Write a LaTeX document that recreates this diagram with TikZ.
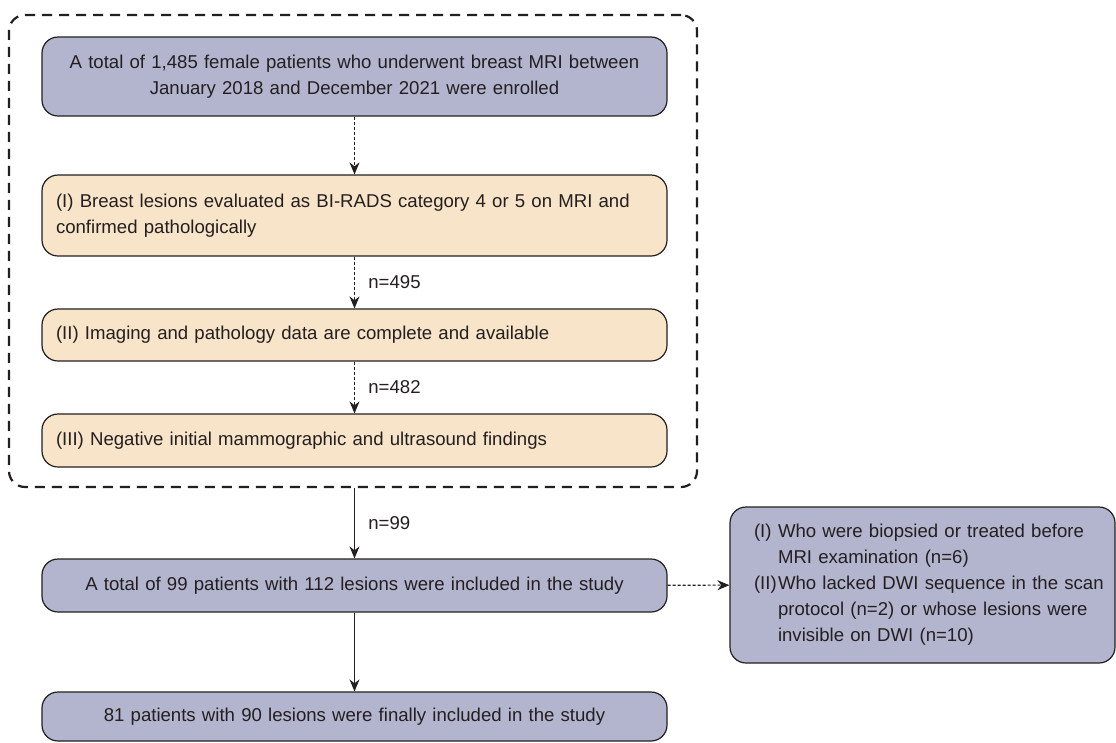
\documentclass[tikz,border=0pt]{standalone}
\usepackage{fontspec}
\setmainfont{Liberation Sans}
\usetikzlibrary{positioning,arrows.meta}
\definecolor{boxblue}{HTML}{B3B5CE}
\definecolor{boxpeach}{HTML}{F8E4C8}
\definecolor{inkgray}{HTML}{231F20}
\newcommand\boxfont{\fontsize{18.6}{26}\selectfont\hyphenpenalty=10000\relax}
\newcommand\exclitem[1]{\leftskip=19pt\hangindent=24pt\hangafter=1\makebox[24pt][l]{#1}}

\begin{document}
\begin{tikzpicture}[x=1pt,y=-1pt,
	box/.style={draw=inkgray, line width=1.2pt, rounded corners=16pt, text=inkgray,
		font=\boxfont, inner sep=0pt},
	bluebox/.style={box, fill=boxblue, minimum width=625pt, text width=597pt, align=center},
	peachbox/.style={box, fill=boxpeach, minimum width=625pt, text width=597pt, align=left},
	sidebox/.style={box, fill=boxblue, minimum width=385pt, text width=375pt, align=left},
	frame/.style={draw=inkgray, line width=2.2pt, dash pattern=on 10pt off 7pt, rounded corners=16pt,
		minimum width=688pt, minimum height=472pt},
	solidarrow/.style={draw=inkgray, line width=1.1pt, -{Stealth[length=12pt,width=10pt]}},
	dasharrow/.style={solidarrow, dash pattern=on 3pt off 2pt},
	count/.style={text=inkgray, font=\boxfont, right=10pt}
	]
	\useasboundingbox (0,0) rectangle (1116,742);
	% screening steps
	\node[frame] (screen) at (353,251) {};
	\node[bluebox, minimum height=79pt] (enrol) at (354.5,76.5)
		{A total of 1,485 female patients who underwent breast MRI between\\ January 2018 and December 2021 were enrolled};
	\node[peachbox, minimum height=81pt] (critI) at (354.5,215.5)
		{(I) Breast lesions evaluated as BI-RADS category 4 or 5 on MRI and confirmed pathologically};
	\node[peachbox, minimum height=52pt] (critII) at (354.5,335)
		{(II) Imaging and pathology data are complete and available};
	\node[peachbox, minimum height=53pt] (critIII) at (354.5,440.5)
		{(III) Negative initial mammographic and ultrasound findings};
	% cohort
	\node[bluebox, minimum height=53pt] (included) at (354.5,585.5)
		{A total of 99 patients with 112 lesions were included in the study};
	\node[bluebox, minimum height=49pt] (final) at (354.5,716.5)
		{81 patients with 90 lesions were finally included in the study};
	\node[sidebox, minimum height=156pt] (excl) at (922.5,585)
		{\exclitem{(I)}Who were biopsied or treated before\newline MRI examination (n=6)\par
		 \exclitem{(II)}Who lacked DWI sequence in the scan\newline protocol (n=2) or whose lesions were\newline invisible on DWI (n=10)\par};
	% connectors
	\path[dasharrow] (enrol) -- (critI);
	\path[dasharrow] (critI) -- node[count] {n=495} (critII);
	\path[dasharrow] (critII) -- node[count] {n=482} (critIII);
	\path[solidarrow] (included.north |- screen.south) -- node[count] {n=99} (included);
	\path[solidarrow] (included) -- (final);
	\path[dasharrow] (included) -- (excl);
\end{tikzpicture}
\end{document}
